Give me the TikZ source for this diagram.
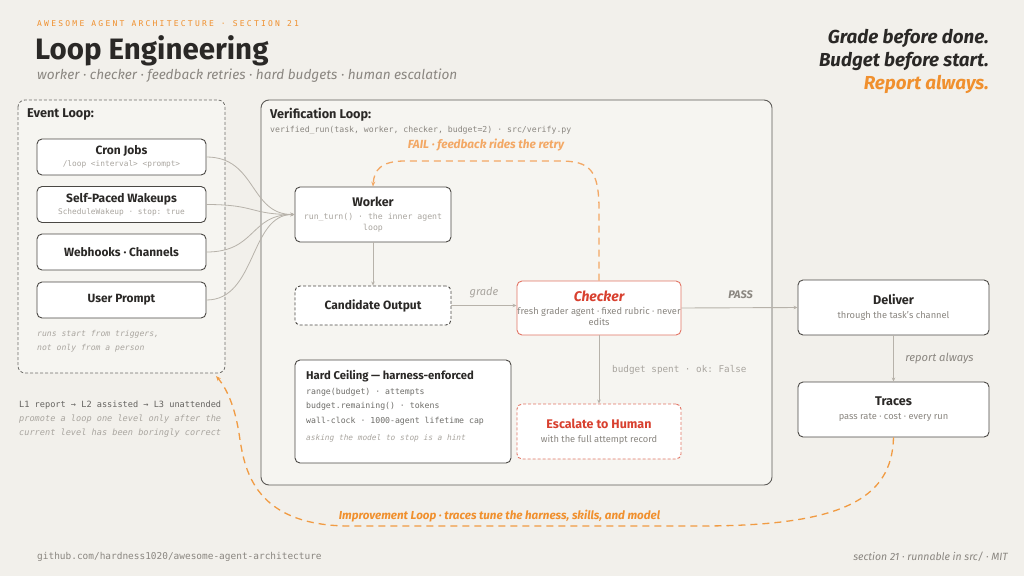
\documentclass[tikz,border=0pt]{standalone}
\usepackage{fontspec}
\setmainfont{Fira Sans}
\setmonofont{DejaVu Sans Mono}
\newfontfamily\spmono[LetterSpace=28]{DejaVu Sans Mono}
\usetikzlibrary{arrows.meta,calc}
\definecolor{bg}{HTML}{F2F0EB}
\definecolor{panel}{HTML}{F6F5F1}
\definecolor{ink}{HTML}{2A2826}
\definecolor{muted}{HTML}{8A8680}
\definecolor{faint}{HTML}{A9A59F}
\definecolor{orng}{HTML}{F0902E}
\definecolor{orngl}{HTML}{F3A865}
\definecolor{redd}{HTML}{D8402F}
\definecolor{redb}{HTML}{E27565}
\definecolor{boxline}{HTML}{4A4844}
\definecolor{edgec}{HTML}{B7B2AA}
\tikzset{
  box/.style={draw=boxline, line width=0.9pt, rounded corners=5pt, fill=white, align=center, inner sep=0pt, text=ink, font=\fontsize{8}{11}\selectfont},
  evbox/.style={box, minimum width=169pt, minimum height=36pt},
  conn/.style={draw=edgec, line width=0.9pt, -{Stealth[length=4pt,width=3.5pt]}},
}
\newcommand{\sub}[1]{{\ttfamily\fontsize{7.8}{10}\selectfont\color{faint}#1}}
\newcommand{\subw}[1]{{\ttfamily\fontsize{8.2}{10}\selectfont\color{faint}#1}}
\newcommand{\subs}[1]{{\fontsize{9.3}{11}\selectfont\color{muted}#1}}
\newcommand{\btitle}[2]{{\fontsize{#1}{#1}\selectfont\bfseries #2}}
\begin{document}
\begin{tikzpicture}[x=1pt,y=-1pt]
\fill[bg] (0,0) rectangle (1024,576);
\useasboundingbox (0,0) rectangle (1024,576);

% header
\node[anchor=west, text=orng, inner sep=0pt] (hdr) at (37,24) {\spmono\fontsize{8}{10}\selectfont AWESOME AGENT ARCHITECTURE · SECTION 21};
\node[anchor=west, text=ink, inner sep=0pt] (title) at (35,51) {\fontsize{29.5}{32}\selectfont\bfseries Loop Engineering};
\node[anchor=west, text=muted, inner sep=0pt] (subt) at (37,76) {\fontsize{13.6}{15}\selectfont\itshape worker · checker · feedback retries · hard budgets · human escalation};

\node[anchor=east, text=ink, inner sep=0pt] (tg1) at (989,38) {\fontsize{18.8}{20}\selectfont\bfseries\itshape Grade before done.};
\node[anchor=east, text=ink, inner sep=0pt] (tg2) at (989,61) {\fontsize{18.8}{20}\selectfont\bfseries\itshape Budget before start.};
\node[anchor=east, text=orng, inner sep=0pt] (tg3) at (989,84) {\fontsize{18.8}{20}\selectfont\bfseries\itshape Report always.};

% panels
\draw[boxline!80, densely dashed, line width=0.8pt, rounded corners=7pt, fill=panel] (18,100) rectangle (225,373);
\coordinate (evcorner) at (216,376);
\node[anchor=west, text=ink, inner sep=0pt] (evt) at (27,115) {\fontsize{12.7}{14}\selectfont\bfseries Event Loop:};

\draw[boxline!90, line width=0.9pt, rounded corners=8pt, fill=panel] (261,100) rectangle (772,485);
\node[anchor=west, text=ink, inner sep=0pt] (vl) at (270,115) {\fontsize{12.7}{14}\selectfont\bfseries Verification Loop:};
\node[anchor=west, inner sep=0pt] (vls) at (270,130) {\ttfamily\fontsize{8.2}{10}\selectfont\color{muted}verified\_run(task, worker, checker, budget=2) · src/verify.py};

% event boxes
\node[evbox] (cron) at (121.5,157) {\btitle{12}{Cron Jobs}\\[1pt]\sub{/loop <interval> <prompt>}};
\node[evbox] (wake) at (121.5,204.5) {\btitle{12}{Self-Paced Wakeups}\\[1pt]\sub{ScheduleWakeup · stop: true}};
\node[evbox] (hook) at (121.5,252) {\btitle{11.9}{Webhooks · Channels}};
\node[evbox] (user) at (121.5,300) {\btitle{11.9}{User Prompt}};
\node[anchor=north west, align=left, inner sep=0pt, text=faint, font=\ttfamily\itshape\fontsize{8.1}{14}\selectfont] (trig) at (37,330) {runs start from triggers,\\not only from a person};

\node[anchor=north west, align=left, inner sep=0pt, text=boxline!85, font=\ttfamily\fontsize{8.6}{14}\selectfont] (lvl) at (19,401) {L1 report → L2 assisted → L3 unattended\\\itshape\color{faint}promote a loop one level only after the\\\itshape\color{faint}current level has been boringly correct};

% verification nodes
\node[box, minimum width=156pt, minimum height=55pt] (worker) at (373,214.5) {\btitle{12.5}{Worker}\\[2pt]\subw{run\_turn() · the inner agent}\\\subw{loop}};
\node[box, densely dashed, minimum width=156pt, minimum height=39pt] (cand) at (373,305.5) {\btitle{12}{Candidate Output}};
\node[box, draw=redb, minimum width=164pt, minimum height=54pt] (checker) at (599,308) {{\fontsize{14}{14}\selectfont\bfseries\itshape\color{redd}Checker}\\[2pt]\subs{fresh grader agent · fixed rubric · never}\\\subs{edits}};
\node[box, draw=redb, densely dashed, minimum width=164pt, minimum height=55pt] (esc) at (599,431.5) {{\fontsize{12.5}{12.5}\selectfont\bfseries\color{redd}Escalate to Human}\\[3pt]\subs{with the full attempt record}};
\node[box, minimum width=216pt, minimum height=103pt] (hard) at (403,411.5) {};
\node[anchor=north west, align=left, inner sep=0pt, text=ink] (hardt) at (306,370) {\fontsize{11.3}{12}\selectfont\bfseries Hard Ceiling — harness-enforced};
\node[anchor=north west, align=left, inner sep=0pt, text=boxline!80, font=\ttfamily\fontsize{8.2}{14.3}\selectfont] (hardl) at (306,388) {range(budget) · attempts\\budget.remaining() · tokens\\wall-clock · 1000-agent lifetime cap};
\node[anchor=north west, inner sep=0pt, text=faint, font=\ttfamily\itshape\fontsize{7.8}{10}\selectfont] (hardh) at (306,434) {asking the model to stop is a hint};

\node[box, minimum width=191pt, minimum height=55pt] (deliver) at (893.5,307.5) {\btitle{12.6}{Deliver}\\[3pt]\subs{through the task's channel}};
\node[box, minimum width=191pt, minimum height=55pt] (traces) at (893.5,409.5) {\btitle{12.6}{Traces}\\[3pt]\subs{pass rate · cost · every run}};

% connectors from event loop
\foreach \s in {cron,wake,hook,user}{
  \draw[conn, line width=0.8pt] (\s.east) .. controls +(50,0) and +(-45,0) .. (worker.west);
}
\draw[conn] (worker.south) -- (cand.north);
\draw[conn] (cand.east) -- (cand.east -| checker.west);
\node[text=faint, font=\fontsize{11}{12}\selectfont\itshape] (gradel) at (484,293) {grade};
\draw[conn] (checker.east) -- (deliver.west);
\node[text=muted, font=\fontsize{11}{12}\selectfont\bfseries\itshape] (pass) at (740.5,295) {PASS};
\draw[conn] (checker.south) -- (esc.north);
\node[anchor=west, inner sep=0pt] (bsp) at (612,370) {\ttfamily\fontsize{9.3}{11}\selectfont\color{faint}budget spent · ok: False};
\draw[conn] (deliver.south) -- (traces.north);
\node[text=muted, font=\fontsize{11.2}{12}\selectfont\itshape] (rep) at (939.5,359) {report always};

% FAIL loop
\draw[orngl, line width=1.3pt, dash pattern=on 7pt off 5pt, -{Stealth[length=5pt,width=4pt]}]
  (checker.north) -- (599,210) .. controls (599,170) and (590,161) .. (560,161) -- (405,161) .. controls (381,161) and (374,170) .. (worker.north);
\node[text=orngl, font=\fontsize{11.8}{13}\selectfont\bfseries\itshape] (faill) at (486,145.5) {FAIL · feedback rides the retry};

% Improvement loop
\draw[orng!90, line width=1.3pt, dash pattern=on 7pt off 5pt, -{Stealth[length=5pt,width=4pt]}]
  (traces.south) .. controls (892,500) and (840,526) .. (700,526) -- (350,526) .. controls (255,526) and (245,470) .. (240,440) .. controls (236,410) and (228,390) .. (evcorner);
\node[text=orng, font=\fontsize{11.6}{13}\selectfont\bfseries\itshape] (impl) at (499.5,516) {Improvement Loop · traces tune the harness, skills, and model};

% footer
\node[anchor=west, inner sep=0pt] (foot1) at (37,557) {\ttfamily\fontsize{9.45}{11}\selectfont\color{muted}github.com/hardness1020/awesome-agent-architecture};
\node[anchor=east, inner sep=0pt] (foot2) at (1008,557) {\fontsize{10.5}{11}\selectfont\itshape\color{muted}section 21 · runnable in src/ · MIT};
\end{tikzpicture}
\end{document}
